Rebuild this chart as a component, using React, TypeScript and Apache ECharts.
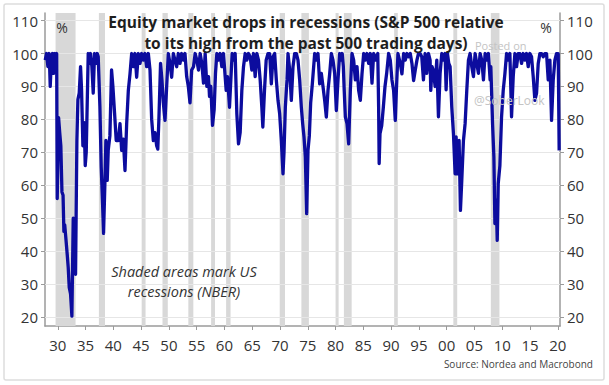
import React, { useEffect, useRef } from "react";
import * as echarts from "echarts";

// S&P 500 relative to its 500-day high, % (year, value)
const era1928to1945: [number, number][] = [
  [1927.74, 98], [1927.98, 100], [1928.22, 96], [1928.46, 100], [1928.64, 90], [1928.82, 97],
  [1929.06, 100], [1929.24, 94], [1929.42, 100], [1929.66, 98], [1929.8, 100], [1929.9, 56],
  [1930.15, 80.5], [1930.35, 76], [1930.55, 72], [1930.75, 58], [1930.95, 57], [1931.1, 46],
  [1931.25, 48], [1931.4, 45], [1931.7, 39], [1931.88, 35], [1932.06, 29], [1932.3, 27],
  [1932.54, 20.3], [1932.78, 50], [1933.02, 49], [1933.2, 33], [1933.44, 73.6], [1933.62, 86],
  [1933.86, 88], [1934.1, 96], [1934.28, 89], [1934.52, 72], [1934.76, 79], [1934.94, 66],
  [1935.12, 70], [1935.3, 85], [1935.48, 100], [1935.7, 97], [1935.9, 100], [1936.14, 96],
  [1936.38, 88], [1936.62, 100], [1936.86, 97], [1937.1, 100], [1937.28, 99], [1937.58, 84],
  [1937.82, 65.5], [1938.06, 54.5], [1938.24, 45.4], [1938.48, 60.5], [1938.66, 73.6], [1938.9, 61.5],
  [1939.08, 70.6], [1939.38, 75], [1939.68, 95], [1939.92, 90], [1940.22, 82], [1940.52, 73.6],
  [1940.9, 73.6], [1941.2, 78.7], [1941.5, 70.6], [1941.8, 74], [1942.1, 64.5], [1942.4, 78.7],
  [1942.7, 88.8], [1943.0, 93.8], [1943.3, 100], [1943.6, 96], [1943.9, 100], [1944.2, 92.8],
  [1944.5, 100], [1944.8, 97], [1945.1, 100], [1945.4, 98], [1945.7, 100],
];

const era1946to1967: [number, number][] = [
  [1946.0, 96], [1946.3, 100], [1946.6, 95], [1946.9, 80], [1947.2, 73.6], [1947.5, 76],
  [1947.8, 72], [1948.0, 71], [1948.2, 80], [1948.5, 97], [1948.75, 92], [1949.0, 85],
  [1949.3, 79.7], [1949.6, 90], [1949.9, 100], [1950.2, 97], [1950.5, 92.8], [1950.8, 100],
  [1951.1, 98], [1951.4, 96], [1951.7, 100], [1952.0, 97], [1952.3, 100], [1952.6, 98],
  [1952.9, 100], [1953.2, 93], [1953.5, 90], [1953.8, 85], [1954.1, 95], [1954.43, 96],
  [1954.73, 100], [1955.03, 98], [1955.33, 95], [1955.63, 100], [1955.93, 97], [1956.23, 91],
  [1956.53, 100], [1956.83, 90], [1957.13, 93], [1957.31, 87], [1957.55, 90], [1957.85, 78.2],
  [1958.15, 83], [1958.39, 94], [1958.63, 100], [1958.93, 98], [1959.23, 100], [1959.53, 96],
  [1959.83, 100], [1960.13, 93], [1960.31, 88.8], [1960.55, 93], [1960.91, 83.7], [1961.15, 92],
  [1961.39, 100], [1961.63, 98], [1961.93, 100], [1962.23, 81.7], [1962.53, 72.6], [1962.83, 76],
  [1963.13, 88.8], [1963.43, 96], [1963.73, 100], [1964.03, 98], [1964.33, 100], [1964.63, 99],
  [1964.93, 95], [1965.23, 100], [1965.53, 93], [1965.83, 100], [1966.13, 98], [1966.43, 92],
  [1966.73, 83.7], [1966.91, 77.7], [1967.21, 88.8], [1967.51, 98], [1967.84, 100],
];

const era1968to1994: [number, number][] = [
  [1968.14, 100], [1968.44, 90.8], [1968.74, 99], [1969.04, 100], [1969.34, 92], [1969.64, 85.8],
  [1969.94, 81.7], [1970.24, 73.6], [1970.54, 63.5], [1970.72, 70], [1970.96, 83.7], [1971.26, 92],
  [1971.44, 100], [1971.74, 95], [1972.04, 85.8], [1972.34, 96], [1972.64, 100], [1972.94, 100],
  [1973.24, 98], [1973.54, 92], [1973.84, 83.7], [1974.08, 78.7], [1974.32, 74.7], [1974.56, 68.6],
  [1974.8, 51.4], [1975.04, 70.6], [1975.28, 75], [1975.52, 85], [1975.82, 90.8], [1976.06, 96],
  [1976.24, 100], [1976.54, 98], [1976.84, 100], [1977.14, 90.8], [1977.44, 94], [1977.74, 90],
  [1978.04, 85.8], [1978.34, 80.7], [1978.64, 88.8], [1978.94, 93.8], [1979.24, 100], [1979.54, 98],
  [1979.84, 94], [1980.14, 82.7], [1980.44, 92], [1980.74, 100], [1981.0, 98], [1981.2, 100],
  [1981.4, 96], [1981.56, 88.8], [1981.76, 80.8], [1982.06, 78.7], [1982.36, 72.6], [1982.66, 88.8],
  [1982.96, 100], [1983.26, 98], [1983.56, 92], [1983.86, 96], [1984.16, 88.8], [1984.46, 85.8],
  [1984.76, 93.8], [1985.06, 100], [1985.36, 98], [1985.66, 100], [1985.96, 97], [1986.26, 100],
  [1986.56, 91], [1986.86, 100], [1987.16, 98], [1987.6, 100], [1987.75, 84], [1987.85, 66.6],
  [1988.0, 75.7], [1988.3, 78], [1988.6, 83.7], [1988.9, 90], [1989.2, 94], [1989.55, 100],
  [1989.85, 98], [1990.15, 92], [1990.45, 88.8], [1990.75, 79.7], [1990.93, 88], [1991.23, 100],
  [1991.65, 97], [1991.95, 93.8], [1992.25, 100], [1992.55, 98], [1992.85, 100], [1993.15, 99],
  [1993.45, 100], [1993.75, 97], [1994.05, 91.8], [1994.35, 95],
];

const era1994to2020: [number, number][] = [
  [1994.65, 98], [1994.92, 100], [1995.22, 100], [1995.52, 99], [1995.82, 92], [1996.12, 100],
  [1996.42, 94], [1996.72, 100], [1997.02, 98], [1997.14, 88.8], [1997.38, 96], [1997.62, 94.8],
  [1997.92, 90], [1998.22, 98], [1998.52, 80.8], [1998.82, 94], [1999.12, 100], [1999.42, 98],
  [1999.72, 100], [1999.9, 89], [2000.14, 100], [2000.38, 97], [2000.62, 96], [2000.92, 83.7],
  [2001.22, 75.7], [2001.52, 63.5], [2001.7, 74.7], [2001.94, 63.5], [2002.24, 73.6], [2002.48, 52.4],
  [2002.72, 61.5], [2003.02, 73.6], [2003.32, 78.7], [2003.62, 88.8], [2003.92, 98], [2004.22, 100],
  [2004.52, 96], [2004.82, 93], [2005.12, 100], [2005.42, 97], [2005.72, 94], [2006.02, 100],
  [2006.32, 98], [2006.62, 92], [2006.92, 100], [2007.22, 98], [2007.52, 100], [2007.82, 92],
  [2007.95, 96], [2008.08, 88.8], [2008.26, 78.7], [2008.5, 68.6], [2008.68, 48.4], [2008.92, 55.5],
  [2009.1, 43.3], [2009.28, 60.5], [2009.58, 66], [2009.88, 80.8], [2010.18, 88.8], [2010.48, 93.8],
  [2010.78, 100], [2011.08, 98], [2011.38, 100], [2011.68, 80.8], [2011.98, 93], [2012.28, 100],
  [2012.58, 96], [2012.88, 100], [2013.18, 100], [2013.48, 97], [2013.78, 100], [2014.08, 98],
  [2014.38, 100], [2014.68, 96], [2014.98, 100], [2015.28, 99], [2015.58, 93], [2015.88, 85.8],
  [2016.18, 88], [2016.48, 97], [2016.78, 100], [2017.08, 100], [2017.38, 99], [2017.68, 100],
  [2017.98, 100], [2018.28, 92], [2018.58, 98], [2018.88, 79.7], [2019.18, 92], [2019.48, 98],
  [2019.78, 100], [2020.08, 100], [2020.25, 70.6],
];

// NBER recessions (start, end) in fractional years
const recessions: [number, number][] = [
  [1929.6, 1933.2], [1937.4, 1938.5], [1945.1, 1945.8], [1948.85, 1949.8], [1953.5, 1954.4],
  [1957.6, 1958.3], [1960.3, 1961.1], [1969.95, 1970.9], [1973.85, 1975.2], [1980.0, 1980.55],
  [1981.5, 1982.9], [1990.55, 1991.2], [2001.2, 2001.9], [2007.95, 2009.5],
];

const yTicks = [20, 30, 40, 50, 60, 70, 80, 90, 100, 110];
const xTicks = [1930, 1935, 1940, 1945, 1950, 1955, 1960, 1965, 1970, 1975, 1980, 1985, 1990, 1995, 2000, 2005, 2010, 2015, 2020];

const FONT = "'Open Sans', 'Noto Sans', sans-serif";

export default function App() {
  const ref = useRef<HTMLDivElement>(null);

  useEffect(() => {
    if (!ref.current) return;
    const chart = echarts.init(ref.current, undefined, { renderer: "svg" });
    const data = [...era1928to1945, ...era1946to1967, ...era1968to1994, ...era1994to2020];

    const yAxisBase = {
      type: "value" as const,
      min: 17.3,
      max: 112.3,
      axisLine: { show: true, lineStyle: { color: "#9a9a9a", width: 1.5 } },
      axisTick: { show: true, customValues: yTicks, length: 4, lineStyle: { color: "#9a9a9a" } },
      axisLabel: {
        customValues: yTicks,
        color: "#333",
        fontSize: 15,
        fontFamily: FONT,
        margin: 7,
      },
      splitLine: { show: false },
    };

    chart.setOption({
      animation: false,
      backgroundColor: "#ffffff",
      grid: { left: 45, right: 49, top: 13, bottom: 59, containLabel: false },
      xAxis: {
        type: "value",
        min: 1927.7,
        max: 2020.4,
        axisLine: { show: true, lineStyle: { color: "#9a9a9a", width: 1.5 } },
        axisTick: { show: true, customValues: xTicks, length: 4, lineStyle: { color: "#9a9a9a" } },
        axisLabel: {
          customValues: xTicks,
          color: "#333",
          fontSize: 15,
          fontFamily: FONT,
          margin: 11,
          formatter: (v: number) => String(Math.round(v) % 100).padStart(2, "0"),
        },
        splitLine: { show: false },
      },
      yAxis: [
        { ...yAxisBase, position: "left" },
        { ...yAxisBase, position: "right" },
      ],
      series: [
        {
          type: "line",
          data: [],
          silent: true,
          z: 1,
          markArea: {
            silent: true,
            z: 1,
            itemStyle: { color: "#d8d8d8" },
            label: { show: false },
            data: recessions.map(([s, e]) => [{ xAxis: s }, { xAxis: e }]),
          },
          markLine: {
            silent: true,
            z: 2,
            symbol: ["none", "none"],
            label: { show: false },
            lineStyle: { color: "#e6e6e6", width: 1, type: "solid" },
            emphasis: { disabled: true },
            data: yTicks.map((v) => ({ yAxis: v })),
          },
        },
        {
          type: "line",
          data,
          z: 3,
          showSymbol: false,
          symbol: "none",
          lineStyle: { color: "#0c0c9e", width: 3.3, join: "round" },
          silent: true,
        },
      ],
      graphic: [
        {
          type: "rect",
          shape: { x: 4, y: 4, width: 600, height: 376, r: 2 },
          style: { fill: "none", stroke: "#dddddd", lineWidth: 1.5 },
          silent: true,
          z: -1,
        },
        {
          type: "text",
          x: 306,
          y: 32,
          style: {
            text: "Equity market drops in recessions (S&P 500 relative\nto its high from the past 500 trading days)",
            fill: "#1e1e1e",
            font: `bold 15.5px ${FONT}`,
            lineHeight: 21,
            align: "center",
            verticalAlign: "middle",
          },
          z: 10,
        },
        {
          type: "text",
          x: 62,
          y: 27,
          style: { text: "%", fill: "#333", font: `14px ${FONT}`, align: "center", verticalAlign: "middle" },
          z: 10,
        },
        {
          type: "text",
          x: 546,
          y: 27,
          style: { text: "%", fill: "#333", font: `14px ${FONT}`, align: "center", verticalAlign: "middle" },
          z: 10,
        },
        {
          type: "text",
          x: 475,
          y: 45,
          style: { text: "Posted on", fill: "#c4c4c4", font: `11px ${FONT}`, align: "left", verticalAlign: "middle" },
          z: 10,
        },
        {
          type: "text",
          x: 474,
          y: 100,
          style: { text: "@SoberLook", fill: "#c4c4c4", font: `12px ${FONT}`, align: "left", verticalAlign: "middle" },
          z: 10,
        },
        {
          type: "text",
          x: 184,
          y: 281,
          style: {
            text: "Shaded areas mark US\nrecessions (NBER)",
            fill: "#333",
            font: `italic 14.5px ${FONT}`,
            lineHeight: 20,
            align: "center",
            verticalAlign: "middle",
          },
          z: 10,
        },
        {
          type: "text",
          x: 593,
          y: 364,
          style: {
            text: "Source: Nordea and Macrobond",
            fill: "#444",
            font: `10px ${FONT}`,
            align: "right",
            verticalAlign: "middle",
          },
          z: 10,
        },
      ],
    });

    return () => chart.dispose();
  }, []);

  return (
    <div
      ref={ref}
      style={{ position: "fixed", left: 0, top: 0, width: 609, height: 385, background: "#fff" }}
    />
  );
}
